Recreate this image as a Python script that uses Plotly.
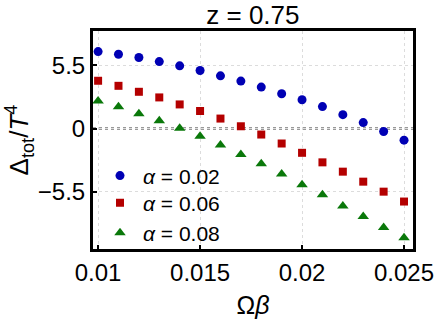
import plotly.graph_objects as go

omega_beta = [0.010, 0.011, 0.012, 0.013, 0.014, 0.015, 0.016, 0.017,
              0.018, 0.019, 0.020, 0.021, 0.022, 0.023, 0.024, 0.025]
alpha_002 = [6.70, 6.47, 6.18, 5.83, 5.46, 5.05, 4.59, 4.13,
             3.61, 3.03, 2.51, 1.91, 1.21, 0.52, -0.26, -1.01]
alpha_006 = [4.16, 3.72, 3.20, 2.71, 2.10, 1.53, 0.87, 0.20,
             -0.52, -1.30, -2.11, -2.94, -3.75, -4.62, -5.49, -6.35]
alpha_008 = [2.40, 1.90, 1.28, 0.69, 0.03, -0.66, -1.44, -2.25,
             -3.06, -3.96, -4.88, -5.77, -6.73, -7.65, -8.60, -9.50]

x_ticks = [0.01, 0.015, 0.02, 0.025]
x_ticktext = ["0.01", "0.015", "0.02", "0.025"]
y_ticks = [-5.5, 0, 5.5]
y_ticktext = ["\u22125.5", "0", "5.5"]

FONT = "Liberation Sans, Arial, sans-serif"

fig = go.Figure()
fig.add_trace(go.Scatter(x=omega_beta, y=alpha_002, mode="markers", name="<i>α</i> = 0.02",
                         legend="legend",
                         marker=dict(symbol="circle", size=9, color="#0000b4")))
fig.add_trace(go.Scatter(x=omega_beta, y=alpha_006, mode="markers", name="<i>α</i> = 0.06",
                         legend="legend2",
                         marker=dict(symbol="square", size=8, color="#b40000")))
fig.add_trace(go.Scatter(x=omega_beta, y=alpha_008, mode="markers", name="<i>α</i> = 0.08",
                         legend="legend3",
                         marker=dict(symbol="triangle-up", size=10, color="#0a780a")))

fig.add_shape(type="line", xref="paper", yref="y", x0=0, x1=1, y0=0, y1=0,
              line=dict(color="#787878", width=2.5, dash="dot"), layer="below")

leg_common = dict(x=0.0125, xanchor="left", yanchor="middle",
                  bgcolor="rgba(0,0,0,0)", font=dict(size=21), itemsizing="trace",
                  itemwidth=36)

fig.update_layout(
    width=436, height=327,
    margin=dict(l=93, r=23, t=31, b=78, autoexpand=False),
    paper_bgcolor="white", plot_bgcolor="white",
    font=dict(family=FONT, size=24, color="black"),
    title=dict(text="z = 0.75", x=0.58, xanchor="center", y=0.955, yanchor="middle",
               font=dict(size=26)),
    showlegend=True,
    legend=dict(y=0.335, **leg_common),
    legend2=dict(y=0.211, **leg_common),
    legend3=dict(y=0.073, **leg_common),
    xaxis=dict(range=[0.00975, 0.02544], tickvals=x_ticks, ticktext=x_ticktext,
               automargin=False,
               showline=True, linecolor="black", linewidth=3, mirror=True,
               ticks="inside", ticklen=4, tickwidth=2, tickcolor="black",
               showgrid=True, gridcolor="#dcdcdc", griddash="dot", gridwidth=1,
               zeroline=False, tickfont=dict(size=24),
               title=dict(text="Ω<i>β</i>", font=dict(size=25), standoff=12)),
    yaxis=dict(range=[-10.48, 8.49], tickvals=y_ticks, ticktext=y_ticktext,
               automargin=False,
               showline=True, linecolor="black", linewidth=3, mirror=True,
               ticks="inside", ticklen=4, tickwidth=2, tickcolor="black",
               showgrid=True, gridcolor="#dcdcdc", griddash="dot", gridwidth=1,
               zeroline=False, tickfont=dict(size=24),
               title=dict(text="Δ<sub>tot</sub>/<i>T</i><sup>4</sup>", font=dict(size=26), standoff=2)),
)

fig.write_html("out.html", config={"displayModeBar": False},
               post_script="document.body.style.margin='0px';")
